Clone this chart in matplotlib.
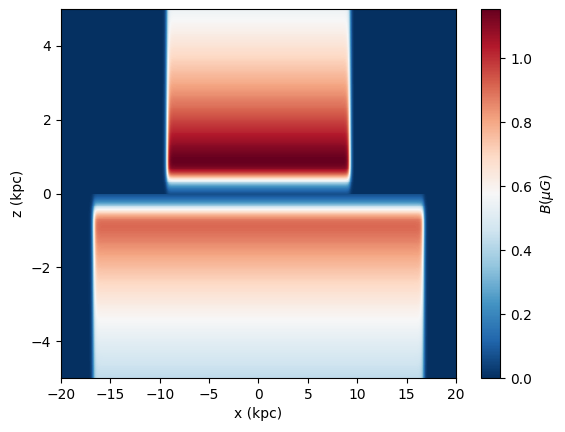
#toroidal halo field (JF12 style), |B| in the x-z plane
import matplotlib
matplotlib.use("Agg")
import matplotlib.pyplot as plt
import numpy as np

# model parameters
B_n=1.4      # north halo strength (muG)
B_s=-1.1     # south halo strength (muG)
r_n=9.22     # north halo radial extent (kpc)
r_s=16.7     # south halo radial extent (kpc)
w_h=0.20     # radial transition width (kpc)
z_0=5.3      # vertical scale height (kpc)
h_disk=0.40  # disk/halo transition height (kpc)
w_disk=0.27  # disk/halo transition width (kpc)

x_range=[-20,20]
z_range=[-5,5]
cbar_ticks=[0.0,0.2,0.4,0.6,0.8,1.0]

def L(z,h,w):
	return 1.0/(1.0+np.exp(-2.0*(np.abs(z)-h)/w))

x=np.linspace(x_range[0],x_range[1],400)
z=np.linspace(z_range[0],z_range[1],400)
X,Z=np.meshgrid(x,z)
r=np.abs(X)
north=B_n*(1-L(r,r_n,w_h))
south=B_s*(1-L(r,r_s,w_h))
B=np.exp(-np.abs(Z)/z_0)*L(Z,h_disk,w_disk)*np.where(Z>=0,north,south)
B=np.abs(B)

fig=plt.figure(figsize=(5.65,4.32),dpi=100)
ax=fig.add_axes([0.108,0.125,0.699,0.854])
cax=fig.add_axes([0.851,0.125,0.0345,0.854])
m=ax.pcolormesh(X,Z,B,cmap="RdBu_r",shading="auto")
ax.set_xlim(x_range)
ax.set_ylim(z_range)
ax.set_xlabel("x (kpc)")
ax.set_ylabel("z (kpc)")
cb=fig.colorbar(m,cax=cax,ticks=cbar_ticks)
cb.set_label(r"$B(\mu G)$")
fig.savefig("out.png",dpi=100)
